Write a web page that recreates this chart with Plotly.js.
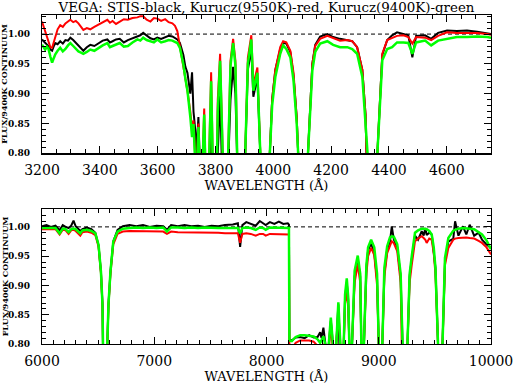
<!DOCTYPE html>
<html>
<head>
<meta charset="utf-8">
<script src="https://cdn.plot.ly/plotly-3.0.1.min.js"></script>
<style>
  html, body { margin: 0; padding: 0; background: #fff; }
  #chart { width: 513px; height: 391px; }
</style>
</head>
<body>
<div id="chart"></div>
<script>
// ── Dados ──────────────────────────────────────────────────────────────────────

// Painel superior: 3200–4750 Å
const topWave = [
  3200, 3206, 3211, 3217, 3222, 3229, 3235, 3241, 3246, 3254, 3263, 3272, 3281, 3290,
  3298, 3308, 3317, 3326, 3335, 3343, 3355, 3367, 3381, 3395, 3410, 3426, 3435, 3444,
  3456, 3469, 3483, 3497, 3513, 3530, 3540, 3550, 3562, 3575, 3587, 3599, 3612, 3626,
  3638, 3651, 3660, 3668, 3677, 3689, 3696, 3703,
  3713, 3719, 3724, 3730, 3734, 3741, 3750, 3761, 3771, 3785, 3798, 3808, 3816, 3825,
  3835, 3844, 3852, 3861, 3869, 3875, 3889, 3903, 3912, 3924, 3931, 3945, 3955, 3970,
  3988, 3996, 4007, 4024, 4034, 4045, 4059, 4070, 4081, 4086, 4102, 4120, 4135, 4145,
  4162, 4187, 4207, 4231, 4256, 4273, 4290, 4308, 4319, 4326, 4340, 4360, 4377, 4394,
  4411, 4428, 4450, 4467, 4481, 4494, 4525, 4546, 4570, 4601, 4635, 4670, 4705, 4740,
  4753,
];
const topStis = [
  0.991, 0.988, 0.985, 0.983, 0.980, 0.974, 0.972, 0.980, 0.985, 0.983, 0.988, 0.984, 0.990, 0.989,
  0.994, 0.990, 0.985, 0.980, 0.976, 0.972, 0.978, 0.982, 0.980, 0.985, 0.989, 0.991, 0.986, 0.988,
  0.991, 0.992, 0.986, 0.990, 0.993, 0.996, 0.998, 1.002, 0.997, 0.993, 0.991, 0.994, 0.992, 0.995,
  0.997, 0.996, 0.994, 0.991, 0.985, 0.965, 0.945, 0.935,
  0.900, 0.936, 0.870, 0.840, 0.800, 0.861, 0.720, 0.840, 0.650, 0.850, 0.600, 0.800, 0.897, 0.780,
  0.550, 0.780, 0.890, 0.945, 0.900, 0.790, 0.500, 0.800, 0.940, 0.974, 0.895, 0.927, 0.800, 0.450,
  0.800, 0.890, 0.940, 0.975, 0.985, 0.984, 0.970, 0.930, 0.860, 0.800, 0.450, 0.800, 0.950, 0.982,
  0.996, 1.000, 0.995, 0.992, 0.990, 0.988, 0.978, 0.940, 0.865, 0.800, 0.450, 0.800, 0.965, 0.990,
  0.998, 1.003, 1.000, 0.998, 0.961, 0.997, 0.998, 0.992, 1.002, 1.006, 1.005, 1.006, 1.004, 1.002,
  1.000,
];
const topK9550 = [
  1.021, 1.012, 1.005, 0.992, 0.985, 0.978, 0.977, 0.986, 0.994, 1.008, 1.015, 1.012, 1.018, 1.021,
  1.024, 1.020, 1.022, 1.018, 1.011, 1.007, 1.010, 1.008, 1.012, 1.016, 1.020, 1.024, 1.019, 1.022,
  1.017, 1.021, 1.025, 1.024, 1.027, 1.028, 1.030, 1.030, 1.024, 1.021, 1.027, 1.026, 1.022, 1.025,
  1.020, 1.018, 1.014, 1.005, 0.980, 0.945, 0.925, 0.905,
  0.870, 0.840, 0.855, 0.770, 0.750, 0.850, 0.700, 0.875, 0.650, 0.936, 0.600, 0.890, 0.967, 0.800,
  0.550, 0.800, 0.955, 0.992, 0.955, 0.800, 0.500, 0.800, 0.960, 0.998, 0.915, 0.944, 0.800, 0.450,
  0.800, 0.890, 0.940, 0.978, 0.988, 0.986, 0.972, 0.935, 0.860, 0.800, 0.450, 0.800, 0.950, 0.980,
  0.992, 0.997, 0.993, 0.989, 0.990, 0.988, 0.978, 0.940, 0.865, 0.800, 0.450, 0.800, 0.967, 0.990,
  0.993, 0.997, 0.998, 0.995, 0.984, 0.995, 0.994, 0.990, 0.997, 1.003, 1.002, 1.002, 1.002, 1.000,
  0.999,
];
const topK9400 = [
  0.982, 0.978, 0.974, 0.979, 0.976, 0.962, 0.952, 0.960, 0.966, 0.972, 0.977, 0.971, 0.975, 0.981,
  0.985, 0.980, 0.976, 0.971, 0.969, 0.967, 0.970, 0.974, 0.972, 0.977, 0.981, 0.985, 0.978, 0.980,
  0.983, 0.985, 0.979, 0.980, 0.986, 0.991, 0.989, 0.994, 0.990, 0.988, 0.986, 0.991, 0.986, 0.988,
  0.990, 0.989, 0.987, 0.985, 0.977, 0.949, 0.925, 0.905,
  0.861, 0.827, 0.849, 0.760, 0.740, 0.844, 0.700, 0.865, 0.650, 0.921, 0.600, 0.870, 0.955, 0.800,
  0.550, 0.800, 0.947, 0.985, 0.947, 0.800, 0.500, 0.800, 0.950, 0.991, 0.905, 0.935, 0.800, 0.450,
  0.800, 0.880, 0.928, 0.967, 0.981, 0.975, 0.961, 0.922, 0.850, 0.800, 0.450, 0.800, 0.939, 0.970,
  0.984, 0.988, 0.982, 0.978, 0.978, 0.975, 0.967, 0.928, 0.856, 0.800, 0.450, 0.800, 0.956, 0.975,
  0.978, 0.986, 0.986, 0.985, 0.967, 0.986, 0.989, 0.981, 0.989, 0.992, 0.995, 0.995, 0.996, 0.995,
  0.994,
];

// Painel inferior: 6000–10000 Å
const botWave = [
  6000, 6040, 6080, 6120, 6157, 6185, 6210, 6237, 6260, 6281, 6300, 6341, 6360, 6400,
  6440, 6475, 6504, 6525, 6539, 6547, 6563, 6582, 6592, 6610, 6635, 6673, 6720, 6780,
  6840, 6900, 6960, 7020, 7080, 7113, 7150, 7210, 7270, 7330, 7390, 7450, 7510, 7570,
  7630, 7700, 7745, 7765, 7785, 7820, 7860, 7904, 7940, 7970, 7993, 8030, 8070, 8110,
  8150, 8190, 8200, 8204, 8225, 8260, 8300, 8340, 8380, 8420, 8455, 8478, 8490, 8507,
  8525, 8540, 8555, 8573, 8592, 8607, 8622, 8640, 8658, 8673, 8688, 8700, 8715, 8728,
  8738, 8749, 8762, 8785, 8813, 8835, 8845, 8856, 8868, 8890, 8905, 8932, 8960, 8985,
  9000, 9016, 9032, 9050, 9075, 9100, 9116, 9135, 9165, 9195, 9212, 9234, 9256, 9275,
  9294, 9323, 9350, 9383, 9400, 9415, 9427, 9450, 9472, 9490, 9505, 9528, 9550, 9568,
  9590, 9620, 9664, 9680, 9710, 9750, 9780, 9810, 9850, 9890, 9920, 9960, 10000,
];
const botStis = [
  1.001, 1.003, 1.000, 1.002, 0.994, 1.003, 1.000, 0.998, 1.002, 1.0105, 1.001, 0.993, 0.996, 0.999,
  0.996, 0.990, 0.968, 0.924, 0.867, 0.800, 0.500, 0.800, 0.867, 0.924, 0.975, 0.995, 1.001, 1.003,
  1.001, 1.003, 1.000, 1.002, 1.001, 0.995, 1.003, 1.001, 1.003, 1.001, 1.002, 1.000, 1.002, 1.001,
  1.003, 1.004, 1.006, 0.966, 1.003, 1.008, 1.005, 1.002, 1.010, 1.006, 1.003, 1.008, 1.005, 1.009,
  1.005, 1.006, 1.004, 0.808, 0.806, 0.811, 0.812, 0.810, 0.815, 0.811, 0.812, 0.820, 0.810, 0.828,
  0.800, 0.700, 0.800, 0.840, 0.800, 0.650, 0.800, 0.868, 0.800, 0.620, 0.800, 0.880, 0.905, 0.875,
  0.800, 0.600, 0.800, 0.915, 0.945, 0.915, 0.800, 0.600, 0.800, 0.930, 0.960, 0.972, 0.955, 0.910,
  0.800, 0.550, 0.800, 0.920, 0.962, 0.975, 1.001, 0.978, 0.965, 0.915, 0.800, 0.500, 0.800, 0.915,
  0.945, 0.985, 0.978, 0.9925, 0.985, 0.998, 0.986, 0.990, 0.987, 0.960, 0.930, 0.800, 0.500, 0.800,
  0.940, 0.975, 0.980, 1.0095, 0.985, 1.001, 0.987, 1.0037, 0.985, 0.990, 0.978, 0.970, 0.964,
];
const botK9550 = [
  0.996, 0.996, 0.995, 0.996, 0.987, 0.995, 0.994, 0.988, 0.994, 0.995, 0.993, 0.985, 0.991, 0.992,
  0.990, 0.986, 0.966, 0.921, 0.865, 0.800, 0.500, 0.800, 0.864, 0.920, 0.970, 0.988, 0.992, 0.993,
  0.993, 0.992, 0.992, 0.992, 0.992, 0.988, 0.992, 0.991, 0.991, 0.991, 0.990, 0.990, 0.990, 0.990,
  0.989, 0.989, 0.989, 0.973, 0.988, 0.989, 0.988, 0.985, 0.988, 0.988, 0.985, 0.988, 0.988, 0.988,
  0.987, 0.987, 0.987, 0.795, 0.792, 0.802, 0.806, 0.806, 0.806, 0.804, 0.798, 0.792, 0.796, 0.800,
  0.790, 0.700, 0.790, 0.832, 0.790, 0.650, 0.800, 0.856, 0.800, 0.620, 0.800, 0.868, 0.890, 0.865,
  0.800, 0.600, 0.800, 0.905, 0.936, 0.905, 0.800, 0.600, 0.800, 0.920, 0.950, 0.964, 0.952, 0.900,
  0.800, 0.550, 0.800, 0.915, 0.955, 0.970, 0.9755, 0.972, 0.958, 0.905, 0.800, 0.500, 0.800, 0.905,
  0.935, 0.9755, 0.980, 0.984, 0.981, 0.978, 0.9726, 0.980, 0.978, 0.955, 0.920, 0.800, 0.500, 0.800,
  0.935, 0.964, 0.978, 0.980, 0.981, 0.982, 0.982, 0.981, 0.980, 0.976, 0.9726, 0.965, 0.953,
];
const botK9400 = [
  0.998, 0.998, 0.997, 0.998, 0.989, 0.997, 0.996, 0.991, 0.996, 0.997, 0.996, 0.989, 0.994, 0.995,
  0.993, 0.989, 0.969, 0.924, 0.867, 0.800, 0.500, 0.800, 0.867, 0.924, 0.975, 0.992, 0.997, 0.998,
  0.999, 0.998, 0.999, 0.998, 0.999, 0.992, 0.999, 0.999, 0.998, 0.999, 0.998, 0.999, 0.998, 0.998,
  0.998, 0.998, 0.998, 0.989, 0.998, 0.999, 0.998, 0.995, 0.999, 0.998, 0.995, 0.999, 0.999, 0.999,
  0.998, 0.998, 0.998, 0.806, 0.805, 0.812, 0.815, 0.815, 0.814, 0.813, 0.808, 0.802, 0.806, 0.813,
  0.798, 0.700, 0.800, 0.845, 0.800, 0.650, 0.800, 0.871, 0.800, 0.620, 0.800, 0.885, 0.912, 0.880,
  0.800, 0.600, 0.800, 0.925, 0.951, 0.920, 0.800, 0.600, 0.800, 0.935, 0.965, 0.978, 0.965, 0.920,
  0.800, 0.550, 0.800, 0.930, 0.967, 0.982, 0.984, 0.983, 0.970, 0.920, 0.800, 0.500, 0.800, 0.920,
  0.950, 0.990, 0.994, 0.997, 0.997, 0.997, 0.996, 0.993, 0.987, 0.965, 0.930, 0.800, 0.500, 0.800,
  0.947, 0.981, 0.9936, 0.995, 0.997, 0.998, 0.998, 0.997, 0.996, 0.991, 0.987, 0.977, 0.962,
];

const chartTitle = "VEGA: STIS-black, Kurucz(9550K)-red, Kurucz(9400K)-green";
const xLabel = "WAVELENGTH (Å)";
const yLabel = "FLUX/9400K CONTINUUM";

// ── Traços ─────────────────────────────────────────────────────────────────────

function spectrum(x, y, color, width, axis) {
  return {
    type: "scatter", mode: "lines",
    x, y,
    xaxis: "x" + axis, yaxis: "y" + axis,
    line: { color, width },
    hoverinfo: "skip",
  };
}

// linha tracejada em 1.00
function unityLine(range, axis) {
  return {
    type: "scatter", mode: "lines",
    x: range, y: [1, 1],
    xaxis: "x" + axis, yaxis: "y" + axis,
    line: { color: "#000", width: 1, dash: "4px,3px" },
    hoverinfo: "skip",
  };
}

const topRange = [3200, 4753];
const botRange = [6000, 10000];
const topDomain = [0.5796, 1];
const botDomain = [0, 0.4094];

const traces = [
  unityLine(topRange, ""),
  spectrum(topWave, topStis, "#000000", 2, ""),
  spectrum(topWave, topK9550, "#ff0000", 2, ""),
  spectrum(topWave, topK9400, "#00ff00", 2.5, ""),
  unityLine(botRange, "2"),
  spectrum(botWave, botStis, "#000000", 2, "2"),
  spectrum(botWave, botK9550, "#ff0000", 2, "2"),
  spectrum(botWave, botK9400, "#00ff00", 2.5, "2"),
];

// ── Eixos ──────────────────────────────────────────────────────────────────────

function xAxis(range, dtick, minor, anchor) {
  return {
    range, anchor,
    dtick, tick0: 0, tickformat: "d",
    ticks: "inside", ticklen: 7, tickwidth: 1, tickcolor: "#000",
    minor: { dtick: minor, ticks: "inside", ticklen: 4, tickcolor: "#000", tickwidth: 1 },
    mirror: "allticks", showline: true, linecolor: "#000", linewidth: 1.2,
    showgrid: false, zeroline: false,
    tickfont: { size: 14, color: "#000" },
    ticklabelstandoff: 4,
    ticklabeloverflow: "allow",
    title: { text: xLabel, standoff: 3, font: { size: 13, color: "#000" } },
  };
}

function yAxis(range, domain, anchor) {
  return {
    range, domain, anchor,
    dtick: 0.05, tick0: 0.8, tickformat: ".2f",
    ticks: "inside", ticklen: 7, tickwidth: 1, tickcolor: "#000",
    minor: { dtick: 0.01, ticks: "inside", ticklen: 4, tickcolor: "#000", tickwidth: 1 },
    mirror: "allticks", showline: true, linecolor: "#000", linewidth: 1.2,
    showgrid: false, zeroline: false,
    tickfont: { size: 9, color: "#000", weight: "bold" },
    ticklabelstandoff: 9,
  };
}

// rótulo vertical do eixo y, centrado em cada painel
function yTitle(domain) {
  return {
    text: yLabel, textangle: -90,
    xref: "paper", yref: "paper",
    x: (4.5 - 42) / 449, y: (domain[0] + domain[1]) / 2,
    xanchor: "center", yanchor: "middle",
    showarrow: false,
    font: { size: 8, color: "#000", weight: "bold" },
  };
}

const layout = {
  width: 513, height: 391,
  paper_bgcolor: "#ffffff", plot_bgcolor: "#ffffff",
  margin: { l: 42, r: 22, t: 15, b: 47 },
  showlegend: false,
  font: { family: "DejaVu Serif, Liberation Serif, serif", color: "#000" },
  title: {
    text: chartTitle,
    x: 0.5, xref: "paper", xanchor: "center",
    y: 1 - 7.5 / 391, yref: "container", yanchor: "middle",
    font: { size: 13.4, color: "#000" },
  },
  xaxis: xAxis(topRange, 200, 50, "y"),
  yaxis: yAxis([0.8, 1.032], topDomain, "x"),
  xaxis2: xAxis(botRange, 1000, 100, "y2"),
  yaxis2: yAxis([0.8, 1.03], botDomain, "x2"),
  annotations: [yTitle(topDomain), yTitle(botDomain)],
};

Plotly.newPlot("chart", traces, layout, { displayModeBar: false, staticPlot: true });
</script>
</body>
</html>
